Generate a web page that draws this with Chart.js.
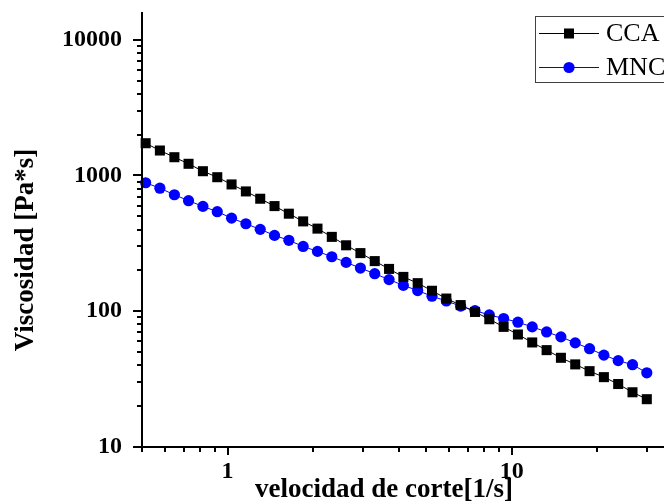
<!DOCTYPE html>
<html><head><meta charset="utf-8">
<script src="https://cdn.jsdelivr.net/npm/chart.js@4.4.1/dist/chart.umd.min.js"></script>
<style>
html,body{margin:0;padding:0;background:#fff;overflow:hidden;}
#wrap{width:664px;height:504px;overflow:hidden;position:relative;background:#fff;}
canvas{display:block;}
</style></head><body>
<div id="wrap"><canvas id="c" width="690" height="504"></canvas></div>
<script>
// ---- data ----
const shearRate = [0.515, 0.578, 0.650, 0.729, 0.819, 0.920, 1.033, 1.160, 1.303, 1.463, 1.643, 1.845, 2.072, 2.327, 2.613, 2.934, 3.295, 3.700, 4.155, 4.666, 5.240, 5.885, 6.609, 7.422, 8.335, 9.360, 10.51, 11.80, 13.26, 14.89, 16.72, 18.78, 21.09, 23.68, 26.59, 29.86];
const viscCCA = [1728, 1527, 1363, 1219, 1075, 971, 859, 763, 674, 595, 523, 459, 406, 353, 306, 268, 234, 205, 179, 161, 141.5, 124, 111, 98.8, 87.3, 76.7, 67.4, 58.9, 51.7, 45.4, 40.6, 36.2, 32.7, 29.1, 25.3, 22.5];
const viscMNC = [884, 806, 721, 652, 592, 541, 485, 441, 401, 362, 333, 300, 276, 252, 229, 208, 189, 171, 155, 142, 129, 119, 109, 101, 93.9, 88.4, 83.0, 76.7, 70.4, 64.7, 58.5, 53.0, 47.5, 43.3, 40.4, 35.2];
const seriesNames = ['CCA', 'MNC'];
const xTickValues = [0.5, 0.6, 0.7, 0.8, 0.9, 1, 2, 3, 4, 5, 6, 7, 8, 9, 10, 20, 30];
const xLabelValues = [1, 10];
const yTickValues = [10, 20, 30, 40, 50, 60, 70, 80, 90, 100, 200, 300, 400, 500, 600, 700, 800, 900, 1000, 2000, 3000, 4000, 5000, 6000, 7000, 8000, 9000, 10000];
const yLabelValues = [10, 100, 1000, 10000];
const xTitle = 'velocidad de corte[1/s]';
const yTitle = 'Viscosidad [Pa*s]';

const SERIF = '"Liberation Serif", "Times New Roman", serif';

const axesPlugin = {
  id: 'originAxes',
  afterDatasetsDraw(chart) {
    const {ctx, chartArea: ca, scales: {x, y}} = chart;
    ctx.save();
    ctx.strokeStyle = '#000';
    ctx.lineWidth = 2;
    x.ticks.forEach(t => {
      const px = Math.round(x.getPixelForValue(t.value));
      const major = xLabelValues.includes(t.value);
      ctx.beginPath();
      ctx.moveTo(px, ca.bottom);
      ctx.lineTo(px, ca.bottom + (major ? 8 : 5));
      ctx.stroke();
    });
    y.ticks.forEach(t => {
      const py = Math.round(y.getPixelForValue(t.value));
      const major = yLabelValues.includes(t.value);
      ctx.beginPath();
      ctx.moveTo(ca.left, py);
      ctx.lineTo(ca.left - (major ? 9 : 5), py);
      ctx.stroke();
    });
    ctx.beginPath();
    ctx.moveTo(ca.left, ca.top);
    ctx.lineTo(ca.left, ca.bottom);
    ctx.lineTo(ca.right, ca.bottom);
    ctx.stroke();
    ctx.restore();
  },
  afterDraw(chart) {
    const ctx = chart.ctx;
    ctx.save();
    // axis titles
    ctx.fillStyle = '#000';
    ctx.font = 'bold 27px ' + SERIF;
    ctx.textAlign = 'left';
    ctx.textBaseline = 'alphabetic';
    ctx.fillText(xTitle, 255, 497);
    ctx.save();
    ctx.translate(33, 250);
    ctx.rotate(-Math.PI / 2);
    ctx.textAlign = 'center';
    ctx.fillText(yTitle, 0, 0);
    ctx.restore();
    // legend
    ctx.strokeStyle = '#404040';
    ctx.lineWidth = 1;
    ctx.strokeRect(535.5, 16.5, 200, 66);
    chart.data.datasets.forEach((ds, i) => {
      const cy = 33 + i * 34;
      ctx.strokeStyle = ds.borderColor;
      ctx.lineWidth = 1;
      ctx.beginPath();
      ctx.moveTo(539, cy + 0.5);
      ctx.lineTo(599, cy + 0.5);
      ctx.stroke();
      ctx.fillStyle = ds.backgroundColor;
      Chart.helpers.drawPoint(ctx, {pointStyle: ds.pointStyle, radius: ds.pointRadius, borderWidth: 0, rotation: 0}, 569, cy + 0.5);
      ctx.fillStyle = '#000';
      ctx.font = '26px ' + SERIF;
      ctx.textAlign = 'left';
      ctx.textBaseline = 'middle';
      ctx.fillText(ds.label, 606, cy + 1);
    });
    ctx.restore();
  }
};

const tickFont = {family: SERIF, weight: 'bold', size: 24};

new Chart(document.getElementById('c'), {
  type: 'line',
  data: {
    datasets: [
      {
        label: seriesNames[0],
        data: shearRate.map((v, i) => ({x: v, y: viscCCA[i]})),
        borderColor: '#000000', backgroundColor: '#000000',
        borderWidth: 1, pointStyle: 'rect', pointRadius: 7.1, pointBorderWidth: 0,
        pointHoverRadius: 7.1, tension: 0, clip: false
      },
      {
        label: seriesNames[1],
        data: shearRate.map((v, i) => ({x: v, y: viscMNC[i]})),
        borderColor: '#0000FF', backgroundColor: '#0000FF',
        borderWidth: 1, pointStyle: 'circle', pointRadius: 5.6, pointBorderWidth: 0,
        pointHoverRadius: 5.6, tension: 0, clip: false
      }
    ]
  },
  options: {
    responsive: false,
    animation: false,
    devicePixelRatio: 1,
    layout: {padding: {top: 12, left: 0, right: 0, bottom: 0}},
    plugins: {legend: {display: false}, tooltip: {enabled: false}},
    events: [],
    scales: {
      x: {
        type: 'logarithmic', min: 0.5, max: 40,
        afterBuildTicks: s => { s.ticks = xTickValues.map(v => ({value: v})); },
        afterFit: s => { s.height = 57; s.paddingLeft = 0; s.paddingRight = 0; s.paddingTop = 0; s.paddingBottom = 0; },
        grid: {display: false, drawTicks: false},
        border: {display: false},
        ticks: {
          autoSkip: false, maxRotation: 0, minRotation: 0, padding: 10, color: '#000', font: tickFont,
          callback: v => xLabelValues.includes(v) ? String(v) : ''
        }
      },
      y: {
        type: 'logarithmic', min: 10, max: 16000,
        afterBuildTicks: s => { s.ticks = yTickValues.map(v => ({value: v})); },
        afterFit: s => { s.width = 142; s.paddingLeft = 0; s.paddingRight = 0; s.paddingTop = 0; s.paddingBottom = 0; },
        grid: {display: false, drawTicks: false},
        border: {display: false},
        ticks: {
          autoSkip: false, padding: 20, color: '#000', font: tickFont,
          callback: v => yLabelValues.includes(v) ? String(v) : ''
        }
      }
    }
  },
  plugins: [axesPlugin]
});
</script>
</body></html>
